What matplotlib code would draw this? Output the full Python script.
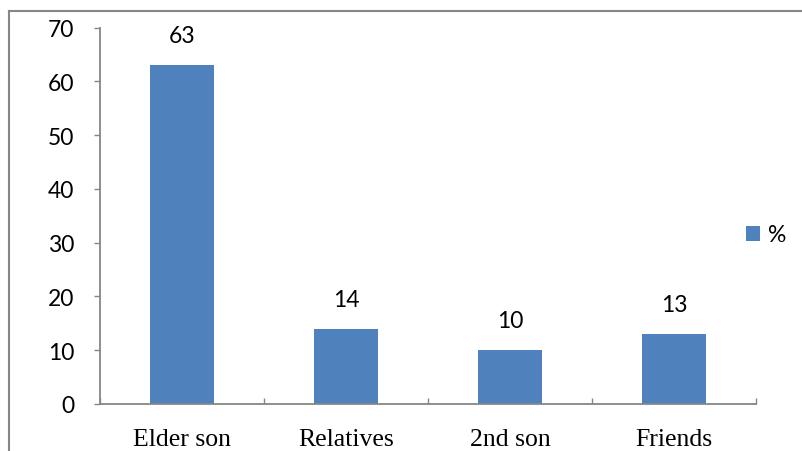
import matplotlib.pyplot as plt
from matplotlib.lines import Line2D

categories = ["Elder son", "Relatives", "2nd son", "Friends"]
values = [63, 14, 10, 13]
series_name = "%"
y_ticks = [0, 10, 20, 30, 40, 50, 60, 70]

BAR_COLOR = "#4F81BD"
AXIS_GRAY = "#868686"
NUM_FONT = "Lato"
W, H = 803, 452

fig = plt.figure(figsize=(W / 100, H / 100), dpi=100)
ax = fig.add_axes([100 / W, 47 / H, 656 / W, 376.5 / H])

x = range(len(categories))
bars = ax.bar(x, values, width=0.39, color=BAR_COLOR, label=series_name, zorder=2)

# value labels above each bar
for xi, v in zip(x, values):
    ax.annotate(str(v), (xi, v), xytext=(0, 19), textcoords="offset pixels",
                ha="center", va="bottom", fontsize=16.5, family=NUM_FONT)

ax.set_xlim(-0.5, len(categories) - 0.5)
ax.set_ylim(0, 70)
ax.set_yticks(y_ticks)
ax.set_yticklabels([str(t) for t in y_ticks], family=NUM_FONT, fontsize=16.5)
ax.tick_params(axis="y", direction="out", length=4.5, width=1, color=AXIS_GRAY, pad=14)

# category labels centred, tick marks on category boundaries
ax.set_xticks(list(x))
ax.set_xticklabels(categories, family="Liberation Serif", fontsize=18.5)
ax.tick_params(axis="x", length=0, pad=17)
ax.set_xticks([i - 0.5 for i in range(len(categories) + 1)], minor=True)
ax.tick_params(axis="x", which="minor", direction="in", length=4.5, width=1, color=AXIS_GRAY)

for side in ("top", "right"):
    ax.spines[side].set_visible(False)
for side in ("left", "bottom"):
    ax.spines[side].set_color(AXIS_GRAY)
    ax.spines[side].set_linewidth(1.3)

leg = fig.legend(loc="center left", bbox_to_anchor=(746 / W, 1 - 236 / H),
                 frameon=False, prop={"family": NUM_FONT, "size": 16.5},
                 handlelength=0.6, handleheight=0.6, handletextpad=0.35,
                 borderpad=0, borderaxespad=0)

# outer chart frame (left and top edges)
fig.add_artist(Line2D([9 / W, 9 / W], [0, 1 - 12 / H], color=AXIS_GRAY, lw=1.5))
fig.add_artist(Line2D([9 / W, 1], [1 - 12 / H, 1 - 12 / H], color=AXIS_GRAY, lw=1.5))

fig.savefig("out.png", dpi=100)
